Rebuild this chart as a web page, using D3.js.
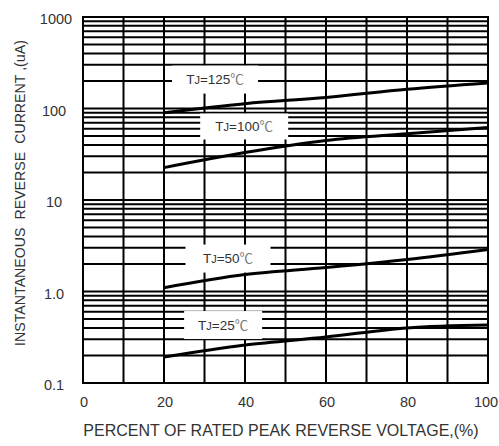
<!DOCTYPE html>
<html>
<head>
<meta charset="utf-8">
<script src="https://cdn.jsdelivr.net/npm/d3@7"></script>
<style>
  body { margin: 0; background: #fff; }
  text { font-family: "Liberation Sans", Arial, sans-serif; fill: #333; }
</style>
</head>
<body>
<div id="chart"></div>
<script>
// Data
var voltagePct = [20, 40, 60, 80, 100];
var tj125 = [90, 113, 132, 162, 190];
var tj100 = [22.6, 33, 44.7, 53, 62];
var tj50 = [1.1, 1.53, 1.83, 2.24, 2.88];
var tj25 = [0.192, 0.26, 0.318, 0.4, 0.43];
var seriesNames = ["125", "100", "50", "25"];
var seriesValues = [tj125, tj100, tj50, tj25];
var xTicks = [0, 20, 40, 60, 80, 100];
var yTicks = [0.1, 1, 10, 100, 1000];
var yTickLabels = ["0.1", "1.0", "10", "100", "1000"];

var svgWidth = 499;
var svgHeight = 446;

var svg = d3.select("#chart")
  .append("svg")
  .attr("width", svgWidth)
  .attr("height", svgHeight);

// plot frame in pixels
var plotLeft = 83, plotRight = 488, plotTop = 17, plotBottom = 383;

var x = d3.scaleLinear().domain([0, 100]).range([plotLeft, plotRight]);
var y = d3.scaleLog().domain([0.1, 1000]).range([plotBottom, plotTop]);

// grid: verticals every 10%, horizontals at 1..9 of each decade
var grid = svg.append("g").attr("stroke", "#000").attr("stroke-width", 2);

grid.selectAll(".vx")
  .data(d3.range(0, 101, 10))
  .enter()
  .append("line")
  .attr("x1", d => x(d)).attr("x2", d => x(d))
  .attr("y1", plotTop - 1).attr("y2", plotBottom + 1);

var minor = [];
[0.1, 1, 10, 100].forEach(function (dec) {
  for (var k = 1; k <= 9; k++) minor.push(dec * k);
});
minor.push(1000);

grid.selectAll(".hy")
  .data(minor)
  .enter()
  .append("line")
  .attr("x1", plotLeft - 1).attr("x2", plotRight + 1)
  .attr("y1", d => y(d)).attr("y2", d => y(d));

// white label boxes hiding grid
var labelPos = [
  { x: 32.6, y: 207, w: 86, h: 28 },
  { x: 39.8, y: 63.6, w: 88, h: 26 },
  { x: 35.8, y: 2.29, w: 85, h: 28 },
  { x: 34.6, y: 0.43, w: 78, h: 28 }
];

var labels = svg.append("g");
labelPos.forEach(function (p, i) {
  labels.append("rect")
    .attr("x", x(p.x) - p.w / 2)
    .attr("y", y(p.y) - p.h / 2)
    .attr("width", p.w)
    .attr("height", p.h)
    .attr("fill", "#fff");
  var t = labels.append("text")
    .attr("x", x(p.x))
    .attr("y", y(p.y))
    .attr("dy", "0.36em")
    .attr("text-anchor", "middle")
    .style("font-size", "13.5px");
  t.append("tspan").text("T");
  t.append("tspan").style("font-size", "11px").text("J");
  t.append("tspan").text("=" + seriesNames[i]);
  t.append("tspan").style("font-family", "'Noto Sans CJK SC'").style("fill", "#777").text("℃");
});

// curves
var line = d3.line()
  .x((d, i) => x(voltagePct[i]))
  .y(d => y(d))
  .curve(d3.curveMonotoneX);

svg.selectAll(".curve")
  .data(seriesValues)
  .enter()
  .append("path")
  .attr("d", line)
  .attr("fill", "none")
  .attr("stroke", "#000")
  .attr("stroke-width", 3);

// tick labels
svg.selectAll(".xt")
  .data(xTicks)
  .enter()
  .append("text")
  .attr("x", d => d === 100 ? x(d) - 2 : x(d) + 1)
  .attr("y", 402)
  .attr("dy", "0.36em")
  .attr("text-anchor", "middle")
  .style("font-size", "14.5px")
  .text(d => d);

svg.selectAll(".yt")
  .data(yTicks)
  .enter()
  .append("text")
  .attr("x", (d, i) => i === 4 ? 56 : 54)
  .attr("y", d => y(d) + 2)
  .attr("dy", "0.36em")
  .attr("text-anchor", "middle")
  .style("font-size", "14.5px")
  .text((d, i) => yTickLabels[i]);

// axis titles
svg.append("text")
  .attr("x", 281)
  .attr("y", 430)
  .attr("dy", "0.36em")
  .attr("text-anchor", "middle")
  .style("font-size", "16px")
  .text("PERCENT OF RATED PEAK REVERSE VOLTAGE,(%)");

svg.append("text")
  .attr("transform", "translate(20,193) rotate(-90)")
  .attr("dy", "0.36em")
  .attr("text-anchor", "middle")
  .style("font-size", "14.2px")
  .style("white-space", "pre")
  .attr("xml:space", "preserve")
  .text("INSTANTANEOUS  REVERSE  CURRENT ,(uA)");
</script>
</body>
</html>
